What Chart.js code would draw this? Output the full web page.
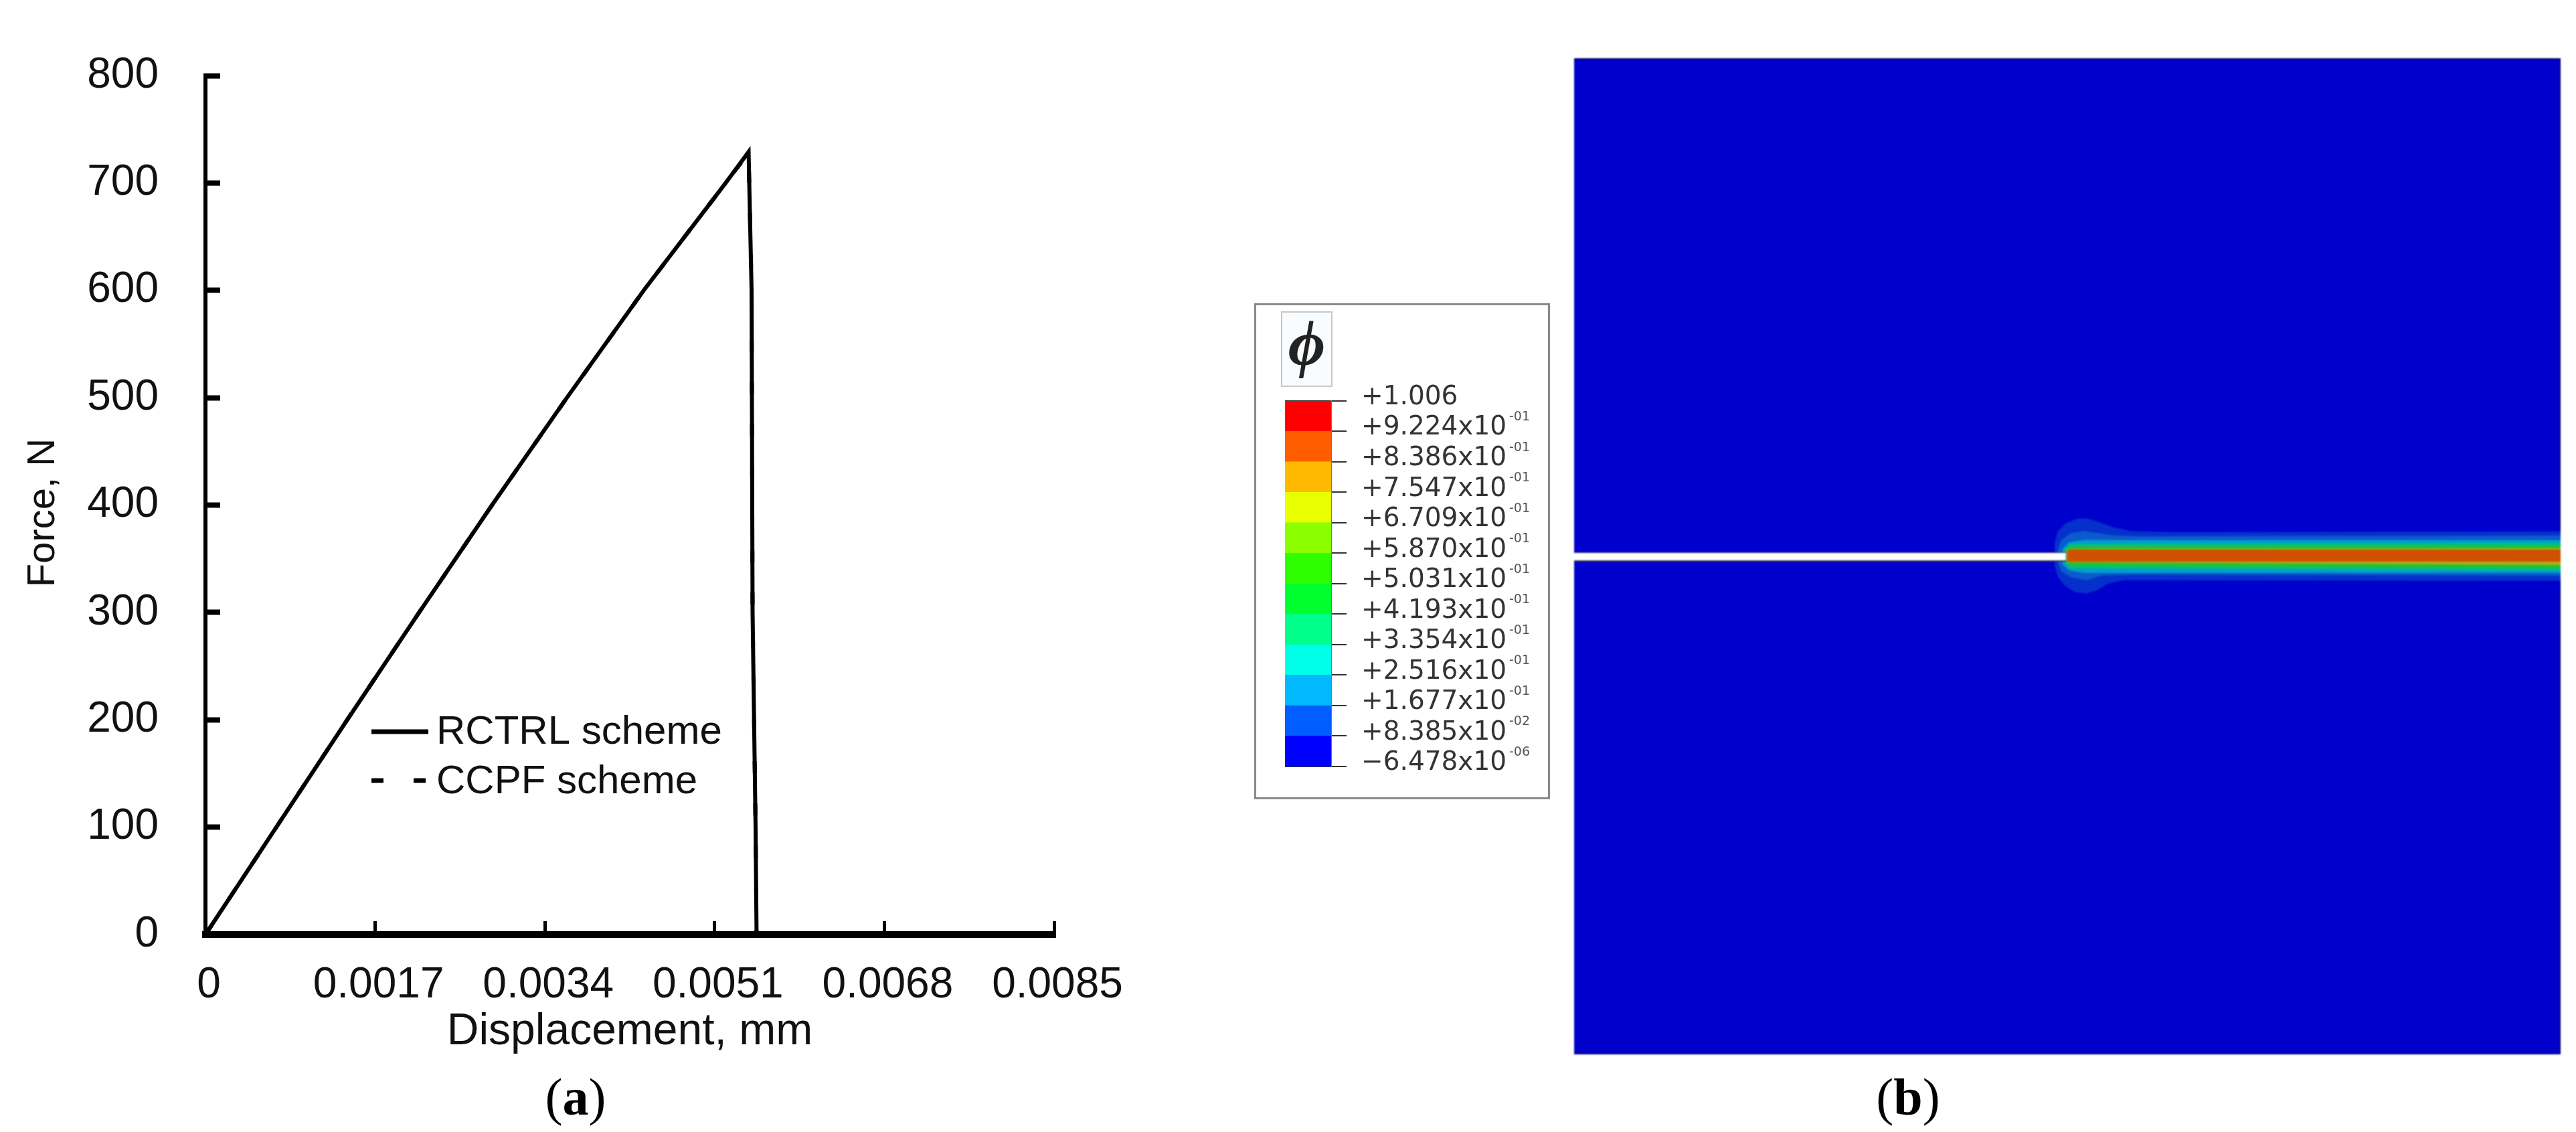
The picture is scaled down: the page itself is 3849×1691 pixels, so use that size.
<!DOCTYPE html>
<html>
<head>
<meta charset="utf-8">
<title>Force-displacement curve and phase field contour</title>
<script src="https://cdn.jsdelivr.net/npm/chart.js@4/dist/chart.umd.min.js"></script>
<style>
  html, body { margin: 0; padding: 0; background: #fff; overflow: hidden; }
  body { position: relative; width: 3849px; height: 1691px; }
  canvas { position: absolute; display: block; }
  #forceGraph { left: 0; top: 0; }
  #fieldPlot { left: 2352px; top: 87px; filter: blur(1.2px); }
  #legendBox { position: absolute; left: 1874px; top: 453px; width: 436px; height: 735px; border: 3px solid #8a8a8a; }
  #barPlot { left: 1874px; top: 453px; }
  #phiBox { position: absolute; left: 1914px; top: 465px; width: 73px; height: 109px; border: 2px solid #c8c8c8; background: #f8fcff;
            font: italic bold 96px "Liberation Serif"; line-height: 92px; text-align: center; color: #222; overflow: hidden; }
  .caption { position: absolute; font: 78px "Liberation Serif"; color: #000; transform: translateX(-50%); line-height: 90px; }
</style>
</head>
<body>
<canvas id="forceGraph" width="1800" height="1691"></canvas>
<div id="legendBox"></div>
<canvas id="barPlot" width="442" height="741"></canvas>
<div id="phiBox">&#981;</div>
<canvas id="fieldPlot" width="1474" height="1488"></canvas>
<div class="caption" style="left:860px; top:1594px;">(<b>a</b>)</div>
<div class="caption" style="left:2851px; top:1594px;">(<b>b</b>)</div>

<script>
// panel (a): force vs displacement
var xTicks = [0, 0.0017, 0.0034, 0.0051, 0.0068, 0.0085];
var xTickLabels = ["0", "0.0017", "0.0034", "0.0051", "0.0068", "0.0085"];
var rctrlDisp = [0, 0.00071, 0.00142, 0.00214, 0.00287, 0.00362, 0.00439, 0.00521, 0.00544, 0.00547, 0.00548, 0.00551, 0.00552, 0.00597];
var rctrlForce = [0, 100, 200, 300, 400, 500, 600, 700, 729, 600, 300, 100, 0, 0];
var ccpfDisp = [0, 0.00071, 0.00142, 0.00214, 0.00287, 0.00362, 0.00439, 0.00521, 0.00544, 0.00547, 0.00548, 0.00551, 0.00552];
var ccpfForce = [0, 100, 200, 300, 400, 500, 600, 700, 728, 600, 300, 100, 0];

// panel (b): colour bar
var levels = [-0.000006478, 0.08385, 0.1677, 0.2516, 0.3354, 0.4193, 0.5031, 0.587, 0.6709, 0.7547, 0.8386, 0.9224, 1.006];
var levelLabels = ["\u22126.478x10", "+8.385x10", "+1.677x10", "+2.516x10", "+3.354x10", "+4.193x10", "+5.031x10", "+5.870x10", "+6.709x10", "+7.547x10", "+8.386x10", "+9.224x10", "+1.006"];
var levelExps = ["-06", "-02", "-01", "-01", "-01", "-01", "-01", "-01", "-01", "-01", "-01", "-01", ""];
var bandColors = ["#0000ff", "#005dff", "#00b9ff", "#00ffe8", "#00ff8b", "#00ff2e", "#2eff00", "#8bff00", "#e8ff00", "#ffb900", "#ff5d00", "#ff0000"];

// panel (b): contours of the field, x and y in mm, crack tip at the origin
var specimenX = [-0.5, 0.5, 0.5, -0.5];
var specimenY = [0.5, 0.5, -0.5, -0.5];
var contour0X = [0.5, 0.1092, 0.0866, 0.064, 0.0482, 0.0325, 0.0197, 0.0095, -0.0016, -0.0095, -0.0129, -0.0129, -0.0095, -0.0027, 0.0075, 0.0188, 0.03, 0.0414, 0.057, 0.0753, 0.5];
var contour0Y = [0.025, 0.0242, 0.0247, 0.0253, 0.0287, 0.0343, 0.0381, 0.0376, 0.0331, 0.0253, 0.013, -0.0094, -0.0206, -0.0296, -0.0358, -0.0374, -0.0341, -0.0274, -0.024, -0.024, -0.0245];
var contour1X = [0.5, 0.0753, 0.0482, 0.0325, 0.0163, 0.0029, -0.0061, -0.0095, -0.0095, -0.0061, 0.0029, 0.0188, 0.0346, 0.064, 0.5];
var contour1Y = [0.0208, 0.0202, 0.0208, 0.0231, 0.0253, 0.0231, 0.0163, 0.0074, -0.006, -0.015, -0.0206, -0.024, -0.0195, -0.0185, -0.0195];
var contour2X = [0.5, 0.0163, 0.0018, -0.005, -0.005, 0.0018, 0.0163, 0.5];
var contour2Y = [0.0163, 0.0163, 0.0141, 0.0074, -0.0081, -0.0141, -0.0166, -0.0166];
var contour3X = [0.5, 0.0029, -0.0027, -0.0027, 0.0029, 0.5];
var contour3Y = [0.0134, 0.0121, 0.0074, -0.0064, -0.0121, -0.0142];
var contour4X = [0.5, 0.004, -0.0011, -0.0011, 0.004, 0.5];
var contour4Y = [0.0108, 0.0103, 0.0067, -0.006, -0.0094, -0.0114];
var contour5X = [0.5, -0.0005, -0.0005, 0.5];
var contour5Y = [0.0081, 0.0072, -0.0058, -0.0087];
var contour6X = [0.5, 0.0002, 0.0002, 0.5];
var contour6Y = [0.0067, 0.0067, -0.0054, -0.0054];
var crackEdgeX = [-0.5, -0.0011, -0.0011, -0.5];
var crackEdgeY = [0.0041, 0.0041, -0.0054, -0.0054];
var crackX = [-0.5, -0.0015, -0.0015, -0.5];
var crackY = [0.0034, 0.0034, -0.004, -0.004];

function toPoints(xs, ys) {
    return xs.map(function (x, i) { return { x: x, y: ys[i] }; });
}

// ---------- force displacement graph ----------
// legend sits inside the plot and the y title is off centre in the original
var forceExtras = {
    id: "forceExtras",
    afterDraw: function (chart) {
        var ctx = chart.ctx;
        ctx.save();
        ctx.fillStyle = "#111";
        ctx.textAlign = "left";
        ctx.textBaseline = "middle";
        ctx.font = "60px 'Liberation Sans'";
        var sets = chart.data.datasets;
        ctx.fillText(sets[1].label, 652, 1094);
        ctx.fillText(sets[0].label, 652, 1168);

        ctx.strokeStyle = "#000";
        ctx.lineWidth = 7;
        ctx.beginPath();
        ctx.moveTo(555, 1093);
        ctx.lineTo(640, 1093);
        ctx.stroke();
        ctx.setLineDash(sets[0].borderDash);
        ctx.beginPath();
        ctx.moveTo(555, 1166);
        ctx.lineTo(640, 1166);
        ctx.stroke();
        ctx.setLineDash([]);

        ctx.translate(65, 766);
        ctx.rotate(-Math.PI / 2);
        ctx.textAlign = "center";
        ctx.font = "58px 'Liberation Sans'";
        ctx.fillText("Force, N", 0, 0);
        ctx.restore();
    }
};

var forceCtx = document.getElementById("forceGraph");
var forceChart = new Chart(forceCtx, {
    type: "scatter",
    data: {
        datasets: [{
            label: "CCPF scheme",
            data: toPoints(ccpfDisp, ccpfForce),
            showLine: true,
            borderColor: "#000",
            borderWidth: 6,
            borderDash: [18, 45],
            pointRadius: 0,
            order: 2
        }, {
            label: "RCTRL scheme",
            data: toPoints(rctrlDisp, rctrlForce),
            showLine: true,
            borderColor: "#000",
            borderWidth: 6,
            pointRadius: 0,
            order: 1
        }]
    },
    options: {
        responsive: false,
        animation: false,
        devicePixelRatio: 1,
        clip: false,
        layout: { padding: { left: 0, top: 113, right: 225, bottom: 0 } },
        plugins: { legend: { display: false }, tooltip: { enabled: false } },
        scales: {
            x: {
                type: "linear",
                min: 0,
                max: 0.0085,
                afterFit: function (scale) { scale.height = 295; },
                afterBuildTicks: function (scale) {
                    scale.ticks = xTicks.map(function (v) { return { value: v }; });
                },
                border: { display: true, color: "#000", width: 10 },
                grid: { drawOnChartArea: false, drawTicks: true, tickLength: -20, tickWidth: 5, tickColor: "#000" },
                ticks: {
                    autoSkip: false,
                    maxRotation: 0,
                    minRotation: 0,
                    padding: 58,
                    labelOffset: 5,
                    color: "#111",
                    font: { family: "'Liberation Sans'", size: 64 },
                    callback: function (v, i) { return xTickLabels[i]; }
                },
                title: {
                    display: true,
                    text: "Displacement, mm",
                    color: "#111",
                    font: { family: "'Liberation Sans'", size: 66 },
                    padding: { top: 0, bottom: 110 }
                }
            },
            y: {
                type: "linear",
                min: 0,
                max: 800,
                // tick padding also pushes the plot top down, cancel that
                afterFit: function (scale) { scale.width = 307; scale.paddingTop = 0; scale.paddingBottom = 0; },
                border: { display: true, color: "#000", width: 6 },
                grid: { drawOnChartArea: false, drawTicks: true, tickLength: -22, tickWidth: 8, tickColor: "#000" },
                ticks: {
                    stepSize: 100,
                    autoSkip: false,
                    padding: 92,
                    color: "#111",
                    font: { family: "'Liberation Sans'", size: 64 }
                }
            }
        }
    },
    plugins: [forceExtras]
});

// ---------- colour bar of the contour plot ----------
// exponents are smaller than the tick label so they get drawn on their own
var exponentLabels = {
    id: "exponentLabels",
    afterDraw: function (chart) {
        var ctx = chart.ctx;
        var scale = chart.scales.y;
        ctx.save();
        ctx.fillStyle = "#555";
        ctx.font = "19px 'DejaVu Sans'";
        ctx.textAlign = "left";
        ctx.textBaseline = "middle";
        levels.forEach(function (v, i) {
            ctx.fillText(levelExps[i], 381, scale.getPixelForValue(v) - 21);
        });
        ctx.restore();
    }
};

var barCtx = document.getElementById("barPlot");
var barChart = new Chart(barCtx, {
    type: "bar",
    data: {
        labels: ["phi"],
        datasets: bandColors.map(function (c, i) {
            return { data: [[levels[i], levels[i + 1]]], backgroundColor: c, barPercentage: 1, categoryPercentage: 1, grouped: false };
        })
    },
    options: {
        responsive: false,
        animation: false,
        devicePixelRatio: 1,
        layout: { padding: { left: 46, top: 146, right: 0, bottom: 49 } },
        plugins: { legend: { display: false }, tooltip: { enabled: false } },
        scales: {
            x: { display: false },
            y: {
                position: "right",
                type: "linear",
                min: levels[0],
                max: levels[levels.length - 1],
                afterFit: function (scale) { scale.width = 327; },
                afterBuildTicks: function (scale) {
                    scale.ticks = levels.map(function (v) { return { value: v }; });
                },
                border: { display: true, color: "#777", width: 2 },
                grid: { color: "#333", lineWidth: 2, tickLength: 23, tickColor: "#333", tickWidth: 2 },
                ticks: {
                    autoSkip: false,
                    padding: 22,
                    labelOffset: -5,
                    color: "#333",
                    font: { family: "'DejaVu Sans'", size: 39 },
                    callback: function (v, i) { return levelLabels[i]; }
                }
            }
        }
    },
    plugins: [exponentLabels]
});

// ---------- contour field ----------
function shape(xs, ys, color) {
    return {
        data: toPoints(xs, ys),
        showLine: true,
        fill: "shape",
        backgroundColor: color,
        borderWidth: 0,
        pointRadius: 0
    };
}

var specimen = shape(specimenX, specimenY, "#0000cc");
specimen.borderColor = "#00007a";
specimen.borderWidth = 4;

// first dataset ends up on top, so innermost contour goes first
var fieldCtx = document.getElementById("fieldPlot");
var fieldChart = new Chart(fieldCtx, {
    type: "scatter",
    data: {
        datasets: [
            shape(crackX, crackY, "#ffffff"),
            shape(crackEdgeX, crackEdgeY, "#3c3c50"),
            shape(contour6X, contour6Y, "#d05000"),
            shape(contour5X, contour5Y, "#a8b018"),
            shape(contour4X, contour4Y, "#28c030"),
            shape(contour3X, contour3Y, "#00c080"),
            shape(contour2X, contour2Y, "#00a0c8"),
            shape(contour1X, contour1Y, "#0a5ccc"),
            shape(contour0X, contour0Y, "#0630cc"),
            specimen
        ]
    },
    options: {
        responsive: false,
        animation: false,
        devicePixelRatio: 1,
        layout: { padding: 0 },
        plugins: { legend: { display: false }, tooltip: { enabled: false } },
        scales: {
            x: { type: "linear", min: -0.5, max: 0.5, display: false },
            y: { type: "linear", min: -0.5, max: 0.5, display: false }
        }
    }
});
</script>
</body>
</html>
